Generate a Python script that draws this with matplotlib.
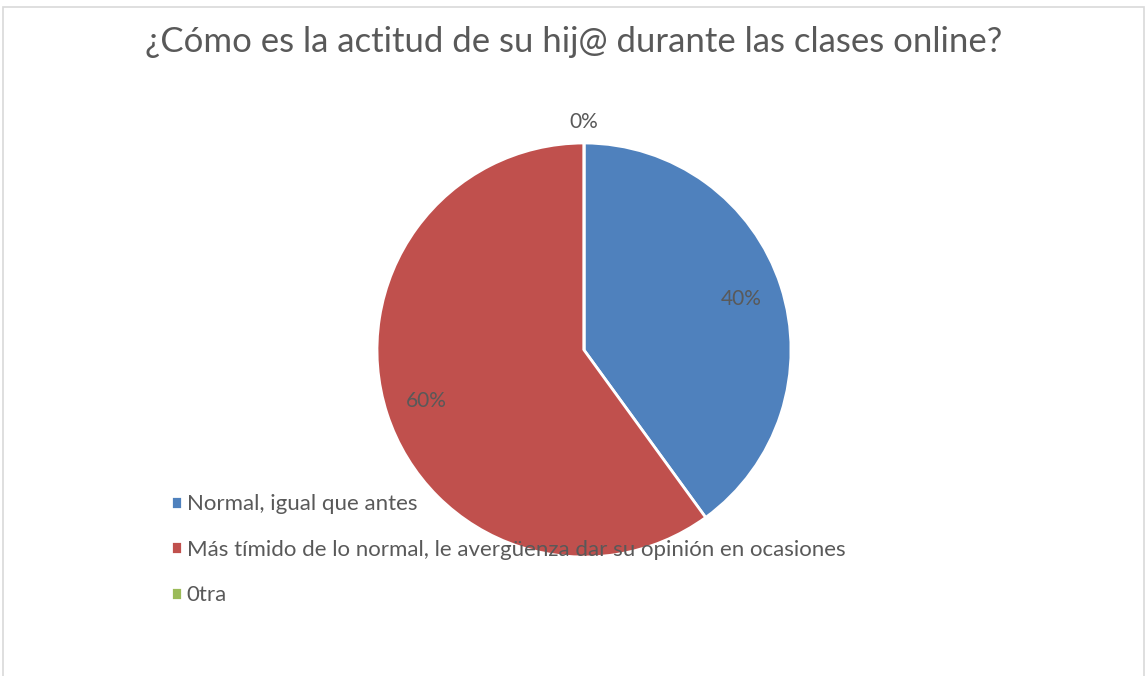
import matplotlib.pyplot as plt
import matplotlib.patches as mpatches
import numpy as np

title = '¿Cómo es la actitud de su hij@ durante las clases online?'
categories = ['Normal, igual que antes',
              'Más tímido de lo normal, le avergüenza dar su opinión en ocasiones',
              '0tra']
values = [40, 60, 0]
colors = ['#4F81BD', '#C0504D', '#9BBB59']
text_color = '#595959'

plt.rcParams['font.family'] = ['Lato', 'DejaVu Sans']

W, H = 1147, 676
fig = plt.figure(figsize=(W / 100, H / 100), dpi=100)

# light grey chart border (bottom edge runs off the image)
fig.patches.append(mpatches.Rectangle((3 / W, -0.05), 1141 / W, 1.05 - 7 / H,
                                      transform=fig.transFigure, fill=False,
                                      edgecolor='#D9D9D9', linewidth=1.2))

# pie axes: centre (584, 350) px, radius ~207 px
cx, cy, r = 584, 350, 207
ax = fig.add_axes([(cx - r) / W, (H - cy - r) / H, 2 * r / W, 2 * r / H])
wedges, texts, autotexts = ax.pie(values, colors=colors, startangle=90, counterclock=False,
                                  autopct='%1.0f%%', pctdistance=0.8,
                                  wedgeprops=dict(edgecolor='white', linewidth=2),
                                  textprops=dict(color=text_color, fontsize=15))
ax.set_xlim(-1, 1)
ax.set_ylim(-1, 1)
ax.set_aspect('equal')

# zero-size slice label sits outside the pie
for w, t, v in zip(wedges, autotexts, values):
    if v == 0:
        ang = np.deg2rad(w.theta1)
        t.set_position((1.1 * np.cos(ang), 1.1 * np.sin(ang)))

fig.text(0.5, 1 - 42 / H, title, ha='center', va='center', fontsize=25, color=text_color)

fig.legend(wedges, categories, loc='upper left', bbox_to_anchor=(160 / W, 1 - 483 / H),
           frameon=False, fontsize=16, labelcolor=text_color, handlelength=0.5,
           handleheight=0.5, handletextpad=0.2, labelspacing=1.15, borderpad=0)

fig.savefig('out.png', dpi=100)
